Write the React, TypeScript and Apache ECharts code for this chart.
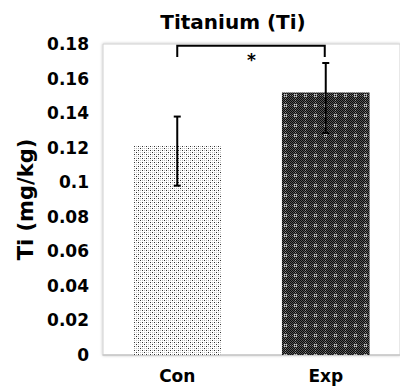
import React, { useEffect, useRef } from "react";
import * as echarts from "echarts";

const categories = ["Con", "Exp"];
const means = [0.1215, 0.152];
const errLow = [0.098, 0.1285];
const errHigh = [0.138, 0.169];
const yTicks = { min: 0, max: 0.18, interval: 0.02 };
const bracket = { from: 0, to: 1, top: 0.179, legEnd: 0.1725, label: "*" };
const chartTitle = "Titanium (Ti)";
const yAxisName = "Ti (mg/kg)";

const FONT = "DejaVu Sans";

function makeLightPattern(): HTMLCanvasElement {
  const c = document.createElement("canvas");
  c.width = 8;
  c.height = 8;
  const ctx = c.getContext("2d")!;
  ctx.fillStyle = "#ffffff";
  ctx.fillRect(0, 0, 8, 8);
  for (let x = 0; x < 8; x++) {
    for (let y = 0; y < 8; y++) {
      if (x % 2 === 0 && y % 2 === 0 && ((x + y) % 8 === 0 || (x - y + 8) % 8 === 0)) {
        ctx.fillStyle = "#303030";
        ctx.fillRect(x, y, 1, 1);
      } else if (x % 2 === 0 && y % 2 === 0) {
        ctx.fillStyle = "#bcbcbc";
        ctx.fillRect(x, y, 1, 1);
      }
    }
  }
  return c;
}

function makeDarkPattern(): HTMLCanvasElement {
  const c = document.createElement("canvas");
  c.width = 10;
  c.height = 10;
  const ctx = c.getContext("2d")!;
  for (let x = 0; x < 10; x++) {
    for (let y = 0; y < 10; y++) {
      let col = (x + y) % 2 === 0 ? "#0a0a0a" : "#555555";
      if ((x === 4 || x === 6) && (y === 4 || y === 6)) col = "#c8c8c8";
      else if ((x === 5 || y === 5) && (x + y) % 2 === 1) col = "#8a8a8a";
      ctx.fillStyle = col;
      ctx.fillRect(x, y, 1, 1);
    }
  }
  return c;
}

export default function App() {
  const ref = useRef<HTMLDivElement>(null);
  useEffect(() => {
    if (!ref.current) return;
    const chart = echarts.init(ref.current, null, { renderer: "svg" });
    const light = makeLightPattern();
    const dark = makeDarkPattern();
    const patterns = [light, dark];
    const barData = means.map((v, i) => ({
      value: v,
      itemStyle: { color: { image: patterns[i], repeat: "repeat" } as any },
    }));
    const errData = categories.map((_, i) => [i, errLow[i], errHigh[i]]);
    chart.setOption({
      animation: false,
      graphic: [
        {
          type: "text",
          x: 233,
          y: 22,
          style: {
            text: chartTitle,
            fontFamily: FONT,
            fontWeight: "bold",
            fontSize: 20,
            fill: "#000",
            align: "center",
            verticalAlign: "middle",
          },
        },
      ],
      grid: {
        left: 103,
        top: 44,
        width: 305,
        height: 311,
        show: true,
        backgroundColor: "#fff",
        borderColor: "#d0d0d0",
        borderWidth: 1,
        shadowColor: "rgba(0,0,0,0.25)",
        shadowBlur: 3,
      },
      xAxis: {
        type: "category",
        data: categories,
        axisTick: { show: false },
        axisLine: { show: true, lineStyle: { color: "#c8c8c8", width: 1.5 } },
        axisLabel: {
          margin: 12,
          fontFamily: FONT,
          fontWeight: "bold",
          fontSize: 17,
          color: "#000",
        },
      },
      yAxis: {
        type: "value",
        min: yTicks.min,
        max: yTicks.max,
        interval: yTicks.interval,
        name: yAxisName,
        nameLocation: "middle",
        nameRotate: 90,
        nameGap: 64,
        nameTextStyle: { fontFamily: FONT, fontWeight: "bold", fontSize: 21, color: "#000" },
        axisLine: { show: false },
        axisTick: { show: false },
        splitLine: { show: false },
        axisLabel: {
          margin: 14,
          fontFamily: FONT,
          fontWeight: "bold",
          fontSize: 17,
          color: "#000",
        },
      },
      series: [
        {
          type: "bar",
          data: barData,
          barWidth: "59%",
          z: 2,
        },
        {
          type: "custom",
          z: 5,
          data: errData,
          renderItem: (params: any, api: any) => {
            const x = api.value(0);
            const lo = api.coord([x, api.value(1)]);
            const hi = api.coord([x, api.value(2)]);
            const cap = 3.5;
            const style = { stroke: "#000", lineWidth: 2 };
            return {
              type: "group",
              children: [
                { type: "line", shape: { x1: hi[0], y1: hi[1], x2: lo[0], y2: lo[1] }, style },
                { type: "line", shape: { x1: hi[0] - cap, y1: hi[1], x2: hi[0] + cap, y2: hi[1] }, style },
                { type: "line", shape: { x1: lo[0] - cap, y1: lo[1], x2: lo[0] + cap, y2: lo[1] }, style },
              ],
            };
          },
        },
        {
          type: "custom",
          z: 5,
          data: [[bracket.from, bracket.to, bracket.top, bracket.legEnd]],
          renderItem: (params: any, api: any) => {
            const a = api.coord([api.value(0), api.value(2)]);
            const b = api.coord([api.value(1), api.value(2)]);
            const a2 = api.coord([api.value(0), api.value(3)]);
            const b2 = api.coord([api.value(1), api.value(3)]);
            return {
              type: "group",
              children: [
                {
                  type: "polyline",
                  shape: { points: [[a2[0], a2[1]], [a[0], a[1]], [b[0] - 1, b[1]], [b2[0] - 1, b2[1]]] },
                  style: { stroke: "#000", lineWidth: 2, fill: "none" },
                },
                {
                  type: "text",
                  x: (a[0] + b[0]) / 2,
                  y: a[1] + 6,
                  style: {
                    text: bracket.label,
                    fontFamily: FONT,
                    fontWeight: "bold",
                    fontSize: 17,
                    fill: "#000",
                    align: "center",
                    verticalAlign: "top",
                  },
                },
              ],
            };
          },
        },
      ],
    });
    return () => chart.dispose();
  }, []);
  return (
    <div
      ref={ref}
      style={{ position: "absolute", left: 0, top: 0, width: 400, height: 388 }}
    />
  );
}
